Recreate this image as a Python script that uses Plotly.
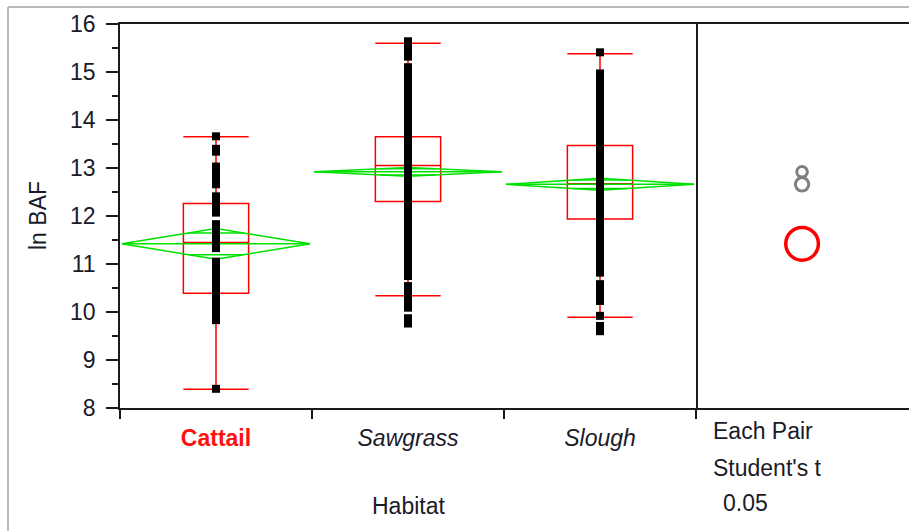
import math
import plotly.graph_objects as go

# ---------------- data ----------------
habitats = ["Cattail", "Sawgrass", "Slough"]
q1 = [10.39, 12.30, 11.94]
median = [11.45, 13.05, 12.67]
q3 = [12.26, 13.65, 13.47]
whisker_lo = [8.39, 10.34, 9.89]
whisker_hi = [13.65, 15.60, 15.38]
means = [11.42, 12.92, 12.66]
ci_half = [0.32, 0.09, 0.125]
circle_radius = [0.34, 0.11, 0.14]

cattail_pts = [13.66, 13.40, 13.34,
               13.03, 12.95, 12.87, 12.79, 12.71, 12.66,
               12.41, 12.33, 12.25, 12.17, 12.09, 12.07,
               11.83, 11.74, 11.65, 11.56, 11.47, 11.40, 11.33,
               11.05, 10.96, 10.87, 10.78, 10.69, 10.60, 10.51, 10.42,
               10.33, 10.24, 10.15, 10.06, 9.97, 9.89, 9.83,
               8.40]
sawgrass_pts = [15.64, 15.56, 15.48, 15.40, 15.32,
                15.10, 15.01, 14.92, 14.83, 14.74, 14.65, 14.56, 14.47,
                14.38, 14.29, 14.20, 14.11, 14.02, 13.93, 13.84, 13.75,
                13.66, 13.57, 13.48, 13.39, 13.30, 13.21, 13.12, 13.03,
                12.94, 12.85, 12.76, 12.67, 12.58, 12.49, 12.40, 12.31,
                12.22, 12.13, 12.04, 11.95, 11.86, 11.77, 11.68, 11.59,
                11.50, 11.41, 11.32, 11.23, 11.14, 11.05, 10.96, 10.87,
                10.80, 10.75,
                10.54, 10.45, 10.36, 10.27, 10.18, 10.09,
                9.87, 9.76]
slough_pts = [15.41,
              14.97, 14.88, 14.79, 14.70, 14.61, 14.52, 14.43, 14.34,
              14.25, 14.16, 14.07, 13.98, 13.89, 13.80, 13.71, 13.62,
              13.53, 13.44, 13.35, 13.26, 13.17, 13.08, 12.99, 12.90,
              12.81, 12.72, 12.63, 12.54, 12.45, 12.36, 12.27, 12.18,
              12.09, 12.00, 11.91, 11.82, 11.73, 11.64, 11.55, 11.46,
              11.37, 11.28, 11.19, 11.10, 11.01, 10.92, 10.85, 10.82,
              10.58, 10.49, 10.40, 10.31, 10.23,
              9.92,
              9.71, 9.64, 9.60]
group_points = [cattail_pts, sawgrass_pts, slough_pts]

y_ticks = [8, 9, 10, 11, 12, 13, 14, 15, 16]
tick_labels = ["<b><span style='color:#ff1010'>Cattail</span></b>",
               "<i>Sawgrass</i>", "<i>Slough</i>"]

# ---------------- style ----------------
FONT = "Liberation Sans, Arial, sans-serif"
TXT = "#1a1a28"
RED = "#ff0000"
GREEN = "#00e000"
AXC = "#1a1a1a"
DIAMOND_HW = 0.49
CIRCLE_X = 2.21
W, H = 909, 531
ML, MR, MT, MB = 120, 0, 24, 123
plot_w = W - ML - MR
split = 576 / plot_w

fig = go.Figure()

# boxes
for i, name in enumerate(habitats):
    fig.add_trace(go.Box(
        x=[i + 1], q1=[q1[i]], median=[median[i]], q3=[q3[i]],
        lowerfence=[whisker_lo[i]], upperfence=[whisker_hi[i]],
        width=0.34, whiskerwidth=1, boxpoints=False,
        line=dict(color=RED, width=1.5), fillcolor="rgba(0,0,0,0)",
        name=name, showlegend=False, hoverinfo="skip"))

# means diamonds
for i, name in enumerate(habitats):
    c = i + 1
    m, h = means[i], ci_half[i]
    xs = [c - DIAMOND_HW, c, c + DIAMOND_HW, c, c - DIAMOND_HW, None,
          c - DIAMOND_HW, c + DIAMOND_HW, None]
    ys = [m, m + h, m, m - h, m, None, m, m, None]
    ov = h / math.sqrt(2)
    frac = 1 - ov / h
    for sgn in (1, -1):
        xs += [c - DIAMOND_HW * frac, c + DIAMOND_HW * frac, None]
        ys += [m + sgn * ov, m + sgn * ov, None]
    fig.add_trace(go.Scatter(x=xs, y=ys, mode="lines",
                             line=dict(color=GREEN, width=1.5),
                             showlegend=False, hoverinfo="skip"))

# points
for i, pts in enumerate(group_points):
    fig.add_trace(go.Scatter(
        x=[i + 1] * len(pts), y=pts, mode="markers",
        marker=dict(symbol="square", size=8, color="black", line=dict(width=0)),
        showlegend=False, hoverinfo="skip"))

# comparison circles
for i in range(len(habitats)):
    r = circle_radius[i]
    col = RED if i == 0 else "#808080"
    lw = 3.5 if i == 0 else 3
    fig.add_shape(type="circle", xref="x2", yref="y",
                  x0=CIRCLE_X - r, x1=CIRCLE_X + r,
                  y0=means[i] - r, y1=means[i] + r,
                  line=dict(color=col, width=lw))

# dummy trace so x2 exists
fig.add_trace(go.Scatter(x=[None], y=[None], xaxis="x2", yaxis="y",
                         showlegend=False, hoverinfo="skip"))

fig.update_layout(
    width=W, height=H,
    margin=dict(l=ML, r=MR, t=MT, b=MB),
    paper_bgcolor="white", plot_bgcolor="white",
    font=dict(family=FONT, size=24, color=TXT),
    xaxis=dict(domain=[0, split], range=[0.5, 3.5],
               tickmode="array", tickvals=[1, 2, 3], ticktext=tick_labels,
               ticks="", showgrid=False, zeroline=False,
               showline=True, mirror=True, linecolor=AXC, linewidth=1.6,
               tickfont=dict(size=23, color=TXT),
               ticklabelstandoff=9,
               minor=dict(tickmode="array", tickvals=[0.5, 1.5, 2.5, 3.5],
                          ticks="outside", ticklen=9, tickwidth=1.6,
                          tickcolor=AXC, showgrid=False)),
    xaxis2=dict(domain=[split, 1], range=[0, (plot_w - 576) / 48.0],
                anchor="y", showticklabels=False, ticks="",
                showgrid=False, zeroline=False,
                showline=True, mirror=True, linecolor=AXC, linewidth=1.6),
    yaxis=dict(range=[8, 16], tickmode="array", tickvals=y_ticks,
               ticks="outside", ticklen=12, tickwidth=1.6, tickcolor=AXC,
               showgrid=False, zeroline=False,
               showline=True, mirror=True, linecolor=AXC, linewidth=1.6,
               tickfont=dict(size=23, color=TXT),
               ticklabelstandoff=6,
               minor=dict(dtick=0.5, ticks="outside", ticklen=6,
                          tickwidth=1.6, tickcolor=AXC, showgrid=False)),
)

def py_to_paper(py):
    return (H - MB - py) / (H - MB - MT)

def px_to_paper(px):
    return (px - ML) / plot_w

annots = [
    dict(text="ln BAF", x=px_to_paper(38), y=0.5, textangle=-90,
         xanchor="center", yanchor="middle"),
    dict(text="Habitat", x=split / 2, y=py_to_paper(506),
         xanchor="center", yanchor="middle"),
    dict(text="Each Pair", x=px_to_paper(711), y=py_to_paper(431),
         xanchor="left", yanchor="middle"),
    dict(text="Student's t", x=px_to_paper(711), y=py_to_paper(468),
         xanchor="left", yanchor="middle"),
    dict(text="0.05", x=px_to_paper(721), y=py_to_paper(503),
         xanchor="left", yanchor="middle"),
]
for a in annots:
    fig.add_annotation(xref="paper", yref="paper", showarrow=False,
                       font=dict(family=FONT, size=23, color=TXT), **a)

# light outer frame
fig.add_shape(type="line", xref="paper", yref="paper",
              x0=px_to_paper(8), x1=px_to_paper(8),
              y0=py_to_paper(540), y1=py_to_paper(7),
              line=dict(color="#b8b8b8", width=2))
fig.add_shape(type="line", xref="paper", yref="paper",
              x0=px_to_paper(8), x1=1.05,
              y0=py_to_paper(7), y1=py_to_paper(7),
              line=dict(color="#b8b8b8", width=2))

fig.write_html("out.html")
